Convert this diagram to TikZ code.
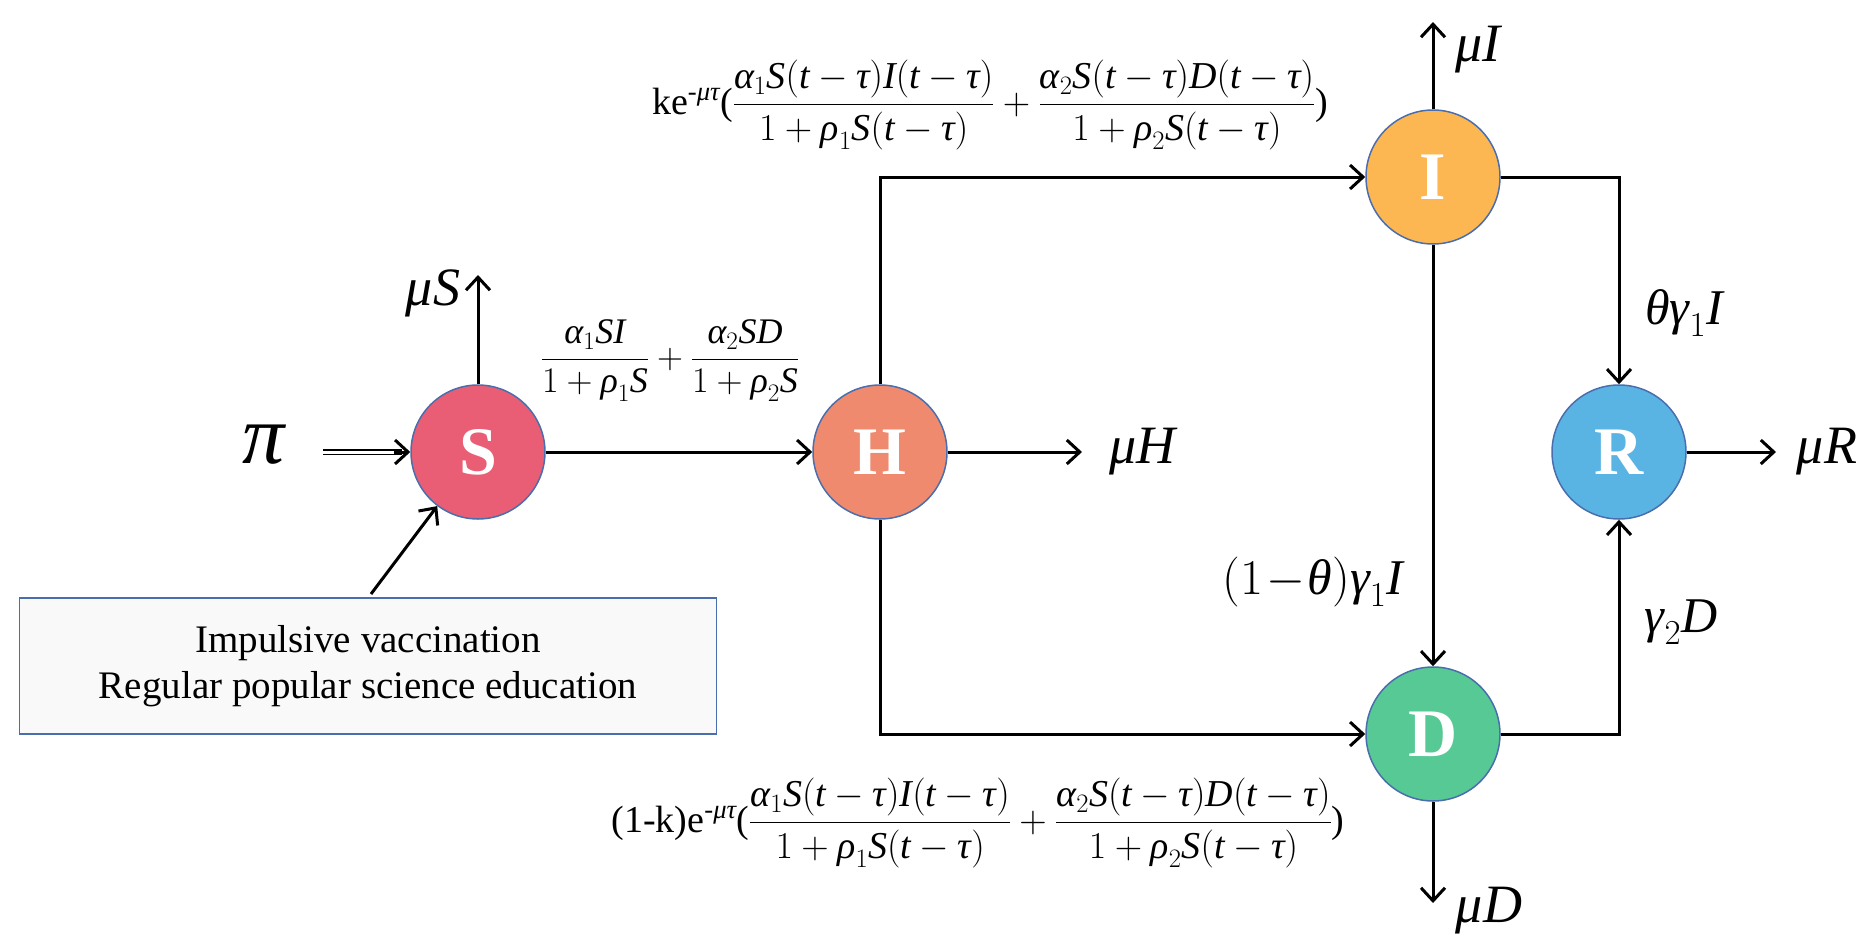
\RequirePackage{fix-cm}
\documentclass[tikz,border=0pt]{standalone}
\usepackage{amsmath}
\usepackage{fontspec}
\setmainfont{Liberation Serif}
\usetikzlibrary{arrows.meta,calc}
\newcommand\mi[1]{\textit{#1}}
\newcommand\tmt{(\mi{t}-\mi{τ})}
\definecolor{cS}{HTML}{E95E75}
\definecolor{cH}{HTML}{F08A6F}
\definecolor{cI}{HTML}{FDB752}
\definecolor{cD}{HTML}{56C995}
\definecolor{cR}{HTML}{5AB4E3}
\definecolor{edgeblue}{HTML}{4A6EAD}
\definecolor{boxfill}{HTML}{F9F9F9}
\tikzset{
  comp/.style={circle, draw=edgeblue, line width=1.5pt, minimum size=134pt, inner sep=0pt,
    text=white, font=\fontsize{68}{68}\selectfont\bfseries},
  arr/.style={line width=3pt, -{Straight Barb[length=13pt,width=24pt]}},
  mulab/.style={inner sep=0pt, font=\fontsize{54}{54}\selectfont},
  ratelab/.style={inner sep=0pt, font=\fontsize{50}{50}\selectfont},
  fraclab/.style={inner sep=0pt, font=\fontsize{36}{40}\selectfont},
  bigfrac/.style={inner sep=0pt, font=\fontsize{38}{42}\selectfont},
}
\begin{document}
\begin{tikzpicture}[x=1pt,y=-1pt]
\useasboundingbox (0,0) rectangle (1875,948);
% compartments
\node[comp, fill=cS] (S) at (478,452) {S};
\node[comp, fill=cH] (H) at (880,452) {H};
\node[comp, fill=cI] (I) at (1433,177) {I};
\node[comp, fill=cD] (D) at (1433,734) {D};
\node[comp, fill=cR] (R) at (1619,452) {R};
% box
\node[draw=edgeblue, fill=boxfill, line width=1.5pt, minimum width=697pt, minimum height=136pt,
  align=center, font=\fontsize{39}{46}\selectfont] (box) at (368,666)
  {Impulsive vaccination\\Regular popular science education};
% free ends
\coordinate (pistart) at (323,452);
\coordinate (muSend) at (478,275);
\coordinate (muHend) at (1082,452);
\coordinate (muIend) at (1433,22);
\coordinate (muRend) at (1776,452);
\coordinate (muDend) at (1433,903);
\coordinate (boxtop) at (371,594);
\coordinate (pitip) at ($(S.west)+(-16,0)$);
% connectors
\draw[line width=1.2pt, double, double distance=3pt, shorten >=8pt] (pistart) -- (S.west);
\draw[arr] (pitip) -- (S.west);
\draw[arr] (S.east) -- (H.west);
\draw[arr] (H.north) |- (I.west);
\draw[arr] (H.south) |- (D.west);
\draw[arr] (I.south) -- (D.north);
\draw[arr] (I.east) -| (R.north);
\draw[arr] (D.east) -| (R.south);
\draw[arr] (S.north) -- (muSend);
\draw[arr] (H.east) -- (muHend);
\draw[arr] (I.north) -- (muIend);
\draw[arr] (R.east) -- (muRend);
\draw[arr] (D.south) -- (muDend);
\draw[arr] (boxtop) -- (S);
% labels
\node[inner sep=0pt, font=\fontsize{84}{84}\selectfont] (pi) at (265,445) {\textit{π}};
\node[mulab] (muS) at (433,293) {\textit{μS}};
\node[mulab] (muH) at (1144,452) {\textit{μH}};
\node[mulab] (muI) at (1479,50) {\textit{μI}};
\node[mulab] (muR) at (1827,452) {\textit{μR}};
\node[mulab] (muD) at (1489,911) {\textit{μD}};
\node[ratelab] (thg) at (1684,313) {$\mi{θγ}_1\mi{I}$};
\node[ratelab] (g2d) at (1681,622) {$\mi{γ}_2\mi{D}$};
\node[ratelab] (omt) at (1313,582) {$(1\!-\!\mi{θ})\mi{γ}_1\mi{I}$};
\node[fraclab] (f1) at (670,361)
  {$\dfrac{\mi{α}_1\mi{SI}}{1+\mi{ρ}_1\mi{S}}+\dfrac{\mi{α}_2\mi{SD}}{1+\mi{ρ}_2\mi{S}}$};
\node[bigfrac] (f2) at (990,105)
  {ke$^{\text{-}\mi{μτ}}$($\dfrac{\mi{α}_1\mi{S}\tmt\mi{I}\tmt}{1+\mi{ρ}_1\mi{S}\tmt}+\dfrac{\mi{α}_2\mi{S}\tmt\mi{D}\tmt}{1+\mi{ρ}_2\mi{S}\tmt}$)};
\node[bigfrac] (f3) at (978,823)
  {(1-k)e$^{\text{-}\mi{μτ}}$($\dfrac{\mi{α}_1\mi{S}\tmt\mi{I}\tmt}{1+\mi{ρ}_1\mi{S}\tmt}+\dfrac{\mi{α}_2\mi{S}\tmt\mi{D}\tmt}{1+\mi{ρ}_2\mi{S}\tmt}$)};
\end{tikzpicture}
\end{document}
